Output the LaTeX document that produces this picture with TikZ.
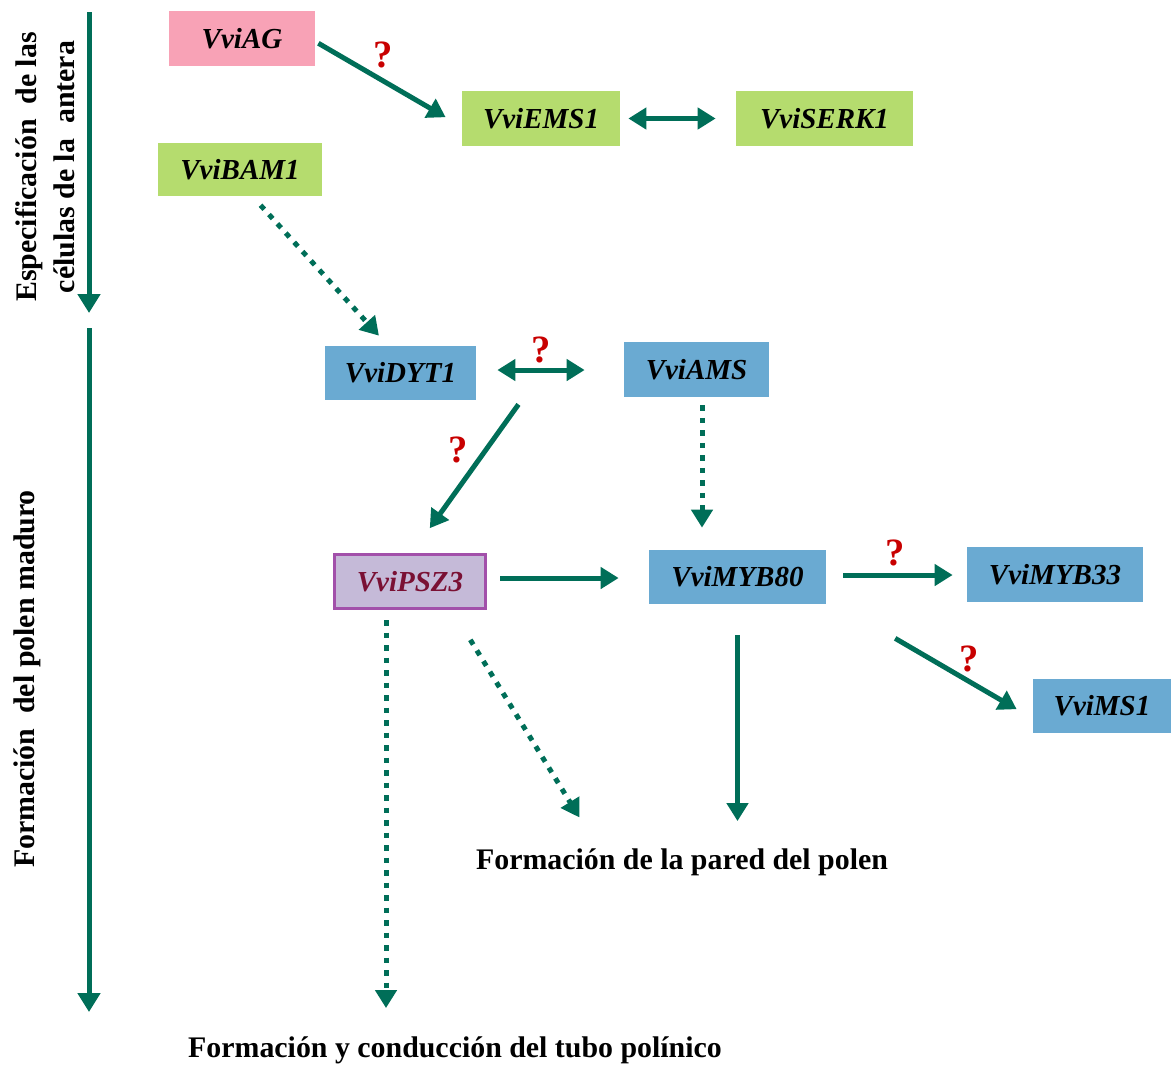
\documentclass[tikz,border=0pt]{standalone}
\usepackage{fontspec}
\setmainfont{Liberation Serif}
\usetikzlibrary{positioning,arrows.meta}
\tikzset{>=Stealth}
\definecolor{flowgreen}{RGB}{0,110,88}
\definecolor{agpink}{RGB}{248,162,182}
\definecolor{earlygreen}{RGB}{181,220,110}
\definecolor{lateblue}{RGB}{106,170,210}
\definecolor{pszfill}{RGB}{197,186,216}
\definecolor{pszedge}{RGB}{162,80,170}
\definecolor{pszfont}{RGB}{122,16,52}
\definecolor{qred}{RGB}{200,0,0}

\tikzset{
    genebox/.style={inner sep=0pt, font=\fontsize{16.5}{19}\selectfont\bfseries\itshape},
    qmark/.style={inner sep=0pt, text=qred, font=\fontsize{22}{24}\selectfont\bfseries},
    stage/.style={inner sep=0pt, font=\fontsize{17}{21.5}\selectfont\bfseries},
    flow/.style={flowgreen, line width=1mm, -{Triangle[length=3.6mm,width=4.2mm]}},
    flowboth/.style={flowgreen, line width=1mm, {Triangle[length=3.6mm,width=4.2mm]}-{Triangle[length=3.6mm,width=4.2mm]}},
    flowdot/.style={flow, dash pattern=on 1.1mm off 1.4mm},
}

\begin{document}
\begin{tikzpicture}[x=0.2mm, y=-0.2mm]
    \useasboundingbox (0,0) rectangle (1171,1066);

    % Stage arrows on the left
    \draw[flow, -{Triangle[length=3.8mm,width=4.4mm]}] (89,12) -- (89,313);
    \draw[flow, -{Triangle[length=3.8mm,width=4.4mm]}] (89,328) -- (89,1012);
    \node[stage, rotate=90, align=center] (stageA) at (45,167) {Especificación\ \ de las\\células de la\ \ antera};
    \node[stage, rotate=90] (stageB) at (27,679) {Formación\ \ del polen maduro};

    % Gene boxes
    \node[genebox, fill=agpink, minimum width=29.2mm, minimum height=11mm] (ag) at (242,38.5) {VviAG};
    \node[genebox, fill=earlygreen, minimum width=31.6mm, minimum height=11mm] (ems) at (541,118.5) {VviEMS1};
    \node[genebox, fill=earlygreen, minimum width=35.4mm, minimum height=11mm] (serk) at (824.5,118.5) {VviSERK1};
    \node[genebox, fill=earlygreen, minimum width=32.8mm, minimum height=10.6mm] (bam) at (240,169.5) {VviBAM1};
    \node[genebox, fill=lateblue, minimum width=30.2mm, minimum height=10.8mm] (dyt) at (400.5,373) {VviDYT1};
    \node[genebox, fill=lateblue, minimum width=29mm, minimum height=11mm] (ams) at (696.5,369.5) {VviAMS};
    \node[genebox, fill=pszfill, draw=pszedge, line width=0.6mm, text=pszfont,
          minimum width=30.2mm, minimum height=10.8mm] (psz) at (410,581.5) {VviPSZ3};
    \node[genebox, fill=lateblue, minimum width=35.4mm, minimum height=10.8mm] (myb80) at (737.5,577) {VviMYB80};
    \node[genebox, fill=lateblue, minimum width=35.2mm, minimum height=11mm] (myb33) at (1055,574.5) {VviMYB33};
    \node[genebox, fill=lateblue, minimum width=27.6mm, minimum height=10.8mm] (ms) at (1102,706) {VviMS1};

    % Outcomes
    \node[stage] (wall) at (682,862) {Formación de la pared del polen};
    \node[stage] (tube) at (455,1050) {Formación y conducción del tubo polínico};

    % Interactions
    \draw[flow, shorten <=0.7mm, shorten >=3.7mm] ([yshift=-0.6mm]ag.east) -- ([yshift=-1.6mm]ems.west);
    \draw[flowboth, shorten <=1.6mm, shorten >=4mm] (ems.east) -- (serk.west);
    \draw[flowdot, shorten <=2.4mm, shorten >=2.7mm] ([xshift=2.5mm]bam.south) -- ([xshift=-2.5mm]dyt.north);
    \draw[flowboth, shorten <=4.2mm, shorten >=7.8mm] ([yshift=0.6mm]dyt.east) -- ([yshift=0.6mm]dyt.east -| ams.west);
    \draw[flow, shorten <=1mm, shorten >=6.1mm] ([xshift=9mm]dyt.south east) -- ([xshift=0.4mm]psz.north);
    \draw[flowdot, shorten <=1.6mm, shorten >=4.4mm] ([xshift=1.1mm]ams.south) -- ([xshift=1.1mm]ams.south |- myb80.north);
    \draw[flow, shorten <=2.6mm, shorten >=6mm] ([yshift=0.7mm]psz.east) -- ([yshift=0.7mm]psz.east -| myb80.west);
    \draw[flow, shorten <=3.4mm, shorten >=2.8mm] ([yshift=0.4mm]myb80.east) -- ([yshift=0.4mm]myb80.east -| myb33.west);
    \draw[flow, shorten <=13.5mm, shorten >=3.7mm] ([xshift=2.1mm]myb80.south east) -- ([yshift=-2.5mm]ms.west);
    \draw[flow, shorten <=6.2mm, shorten >=5.4mm] (myb80.south) -- (myb80.south |- wall.north);
    \draw[flowdot, shorten <=7mm, shorten >=7.2mm] ([xshift=-7mm]psz.south east) -- ([xshift=24.5mm]wall.north west);
    \draw[flowdot, shorten <=2mm, shorten >=5.6mm] ([xshift=-4.8mm]psz.south) -- ([xshift=-4.8mm]psz.south |- tube.north);

    % Unconfirmed links
    \node[qmark] (q1) at (383,55) {?};
    \node[qmark] (q2) at (541,350) {?};
    \node[qmark] (q3) at (458,450) {?};
    \node[qmark] (q4) at (895,553) {?};
    \node[qmark] (q5) at (969,659) {?};
\end{tikzpicture}
\end{document}
